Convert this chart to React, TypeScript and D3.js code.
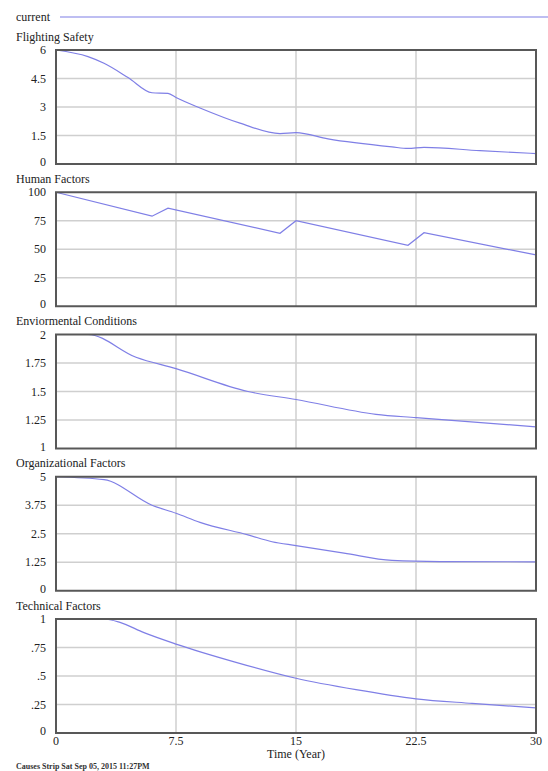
import React from 'react'
import * as d3 from 'd3'

// values, time in years
const safetyT = [0, 2, 3, 4.5, 6, 7, 7.5, 9, 11.5, 14, 15, 17, 21, 22, 23, 26.5, 30]
const safetyV = [6, 5.65, 5.3, 4.55, 3.75, 3.72, 3.5, 2.95, 2.15, 1.6, 1.65, 1.32, 0.9, 0.82, 0.88, 0.7, 0.55]

const humanT = [0, 6, 7, 14, 15, 22, 23, 30]
const humanV = [100, 79, 86, 64, 75, 53.5, 64.5, 45]

const envT = [0, 2, 5, 7.5, 12, 15, 20, 22.5, 30]
const envV = [2, 2, 1.8, 1.7, 1.5, 1.43, 1.3, 1.27, 1.19]

const orgT = [0, 3, 6, 7.5, 9, 12, 13.5, 15, 18, 21, 24, 30]
const orgV = [5, 4.87, 3.75, 3.4, 3.0, 2.45, 2.15, 1.98, 1.65, 1.33, 1.28, 1.27]

const techT = [0, 3, 4, 5.5, 7.5, 11.25, 15, 18.75, 22.5, 26, 30]
const techV = [1, 1, 0.97, 0.88, 0.78, 0.62, 0.48, 0.38, 0.3, 0.26, 0.22]

const titles = ['Flighting Safety', 'Human Factors', 'Enviormental Conditions', 'Organizational Factors', 'Technical Factors']
const yDomains: [number, number][] = [[0, 6], [0, 100], [1, 2], [0, 5], [0, 1]]
const yTickLabels = [
  ['0', '1.5', '3', '4.5', '6'],
  ['0', '25', '50', '75', '100'],
  ['1', '1.25', '1.5', '1.75', '2'],
  ['0', '1.25', '2.5', '3.75', '5'],
  ['0', '.25', '.5', '.75', '1'],
]
const xTicks = [0, 7.5, 15, 22.5, 30]
const xTickLabels = ['0', '7.5', '15', '22.5', '30']

const seriesT = [safetyT, humanT, envT, orgT, techT]
const seriesV = [safetyV, humanV, envV, orgV, techV]
const smooth = [true, false, true, true, true]

const W = 548
const H = 771
const left = 56
const right = 536
const firstTop = 50
const step = 142.25
const panelH = 114
const lineColor = '#7f7fe6'
const font = "'Liberation Serif', 'DejaVu Serif', 'Times New Roman', serif"

export default function App() {
  const x = d3.scaleLinear().domain([0, 30]).range([left, right])

  return (
    <svg width={W} height={H} style={{ position: 'absolute', left: 0, top: 0, background: '#fff', fontFamily: font }}>
      <text x={16} y={21} fontSize={12} fill="#222">current</text>
      <line x1={60} x2={W} y1={17} y2={17} stroke={lineColor} strokeWidth={1.2} />

      {titles.map((title, i) => {
        const top = firstTop + i * step
        const y = d3.scaleLinear().domain(yDomains[i]).range([top + panelH, top])
        const yTicks = d3.range(5).map(k => yDomains[i][0] + (yDomains[i][1] - yDomains[i][0]) * k / 4)
        const line = d3.line<number>()
          .x((_, j) => x(seriesT[i][j]))
          .y(v => y(v))
          .curve(smooth[i] ? d3.curveMonotoneX : d3.curveLinear)
        return (
          <g key={title}>
            <text x={16} y={top - 9.5} fontSize={12} fill="#222">{title}</text>
            {yTicks.slice(1, 4).map(t => (
              <line key={'h' + t} x1={left} x2={right} y1={y(t)} y2={y(t)} stroke="#cfcfcf" strokeWidth={1.5} />
            ))}
            {xTicks.slice(1, 4).map(t => (
              <line key={'v' + t} x1={x(t)} x2={x(t)} y1={top} y2={top + panelH} stroke="#cfcfcf" strokeWidth={1.5} />
            ))}
            {yTicks.map((t, k) => (
              <text key={'l' + t} x={46} y={y(t) + (k === 0 ? 2 : 4)} fontSize={12} textAnchor="end" fill="#222">
                {yTickLabels[i][k]}
              </text>
            ))}
            <path d={line(seriesV[i]) || ''} fill="none" stroke={lineColor} strokeWidth={1.2} />
            <rect x={left} y={top} width={right - left} height={panelH} fill="none" stroke="#585858" strokeWidth={2} />
          </g>
        )
      })}

      {xTicks.map((t, k) => (
        <text key={t} x={x(t)} y={745} fontSize={12} textAnchor="middle" fill="#222">{xTickLabels[k]}</text>
      ))}
      <text x={x(15)} y={758} fontSize={12} textAnchor="middle" fill="#222">Time (Year)</text>
      <text x={16} y={769} fontSize={8} fontWeight="bold" fill="#333">Causes Strip   Sat Sep 05, 2015 11:27PM</text>
    </svg>
  )
}
